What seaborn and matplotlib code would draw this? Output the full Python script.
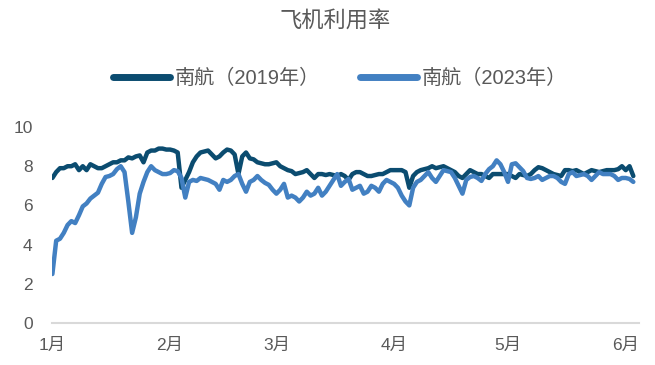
import matplotlib
matplotlib.use("Agg")
import matplotlib.pyplot as plt
import numpy as np
import pandas as pd
import seaborn as sns

# Daily aircraft utilisation (hours/day), 1 Jan - 3 Jun
start_date = "2023-01-01"
series_names = ["南航（2019年）", "南航（2023年）"]
month_labels = ["1月", "2月", "3月", "4月", "5月", "6月"]
y_ticks = [0, 2, 4, 6, 8, 10]

util_2019 = [
    7.4, 7.7, 7.9, 7.9, 8.0, 8.0, 8.1, 7.8, 8.0, 7.8,
    8.1, 8.0, 7.9, 7.9, 8.0, 8.1, 8.2, 8.2, 8.3, 8.3,
    8.45, 8.4, 8.5, 8.55, 8.2, 8.7, 8.8, 8.8, 8.9, 8.9,
    8.85, 8.85, 8.8, 8.7, 6.9, 7.3, 7.7, 8.2, 8.5, 8.7,
    8.75, 8.8, 8.6, 8.4, 8.5, 8.7, 8.85, 8.8, 8.6, 7.6,
    8.5, 8.7, 8.4, 8.35, 8.2, 8.15, 8.1, 8.1, 8.15, 8.2,
    8.0, 7.9, 7.8, 7.75, 7.6, 7.65, 7.7, 7.8, 7.6, 7.4,
    7.6, 7.6, 7.55, 7.6, 7.55, 7.5, 7.6, 7.5, 7.3, 7.6,
    7.7, 7.7, 7.6, 7.5, 7.5, 7.55, 7.6, 7.6, 7.7, 7.8,
    7.8, 7.8, 7.8, 7.7, 6.9, 7.5, 7.7, 7.8, 7.85, 7.9,
    8.0, 7.9, 7.95, 8.0, 7.9, 7.8, 7.7, 7.5, 7.4, 7.6,
    7.8, 7.7, 7.6, 7.6, 7.5, 7.4, 7.6, 7.6, 7.6, 7.6,
    7.6, 7.5, 7.4, 7.6, 7.55, 7.5, 7.6, 7.8, 7.95, 7.9,
    7.8, 7.7, 7.6, 7.55, 7.5, 7.8, 7.8, 7.75, 7.8, 7.7,
    7.6, 7.7, 7.8, 7.75, 7.7, 7.75, 7.8, 7.8, 7.8, 7.85,
    8.0, 7.8, 8.0, 7.5,
]

util_2023 = [
    2.5, 4.2, 4.3, 4.6, 5.0, 5.2, 5.1, 5.5, 5.95, 6.1,
    6.35, 6.5, 6.65, 7.1, 7.45, 7.5, 7.6, 7.85, 8.0, 7.7,
    6.2, 4.6, 5.4, 6.6, 7.2, 7.7, 8.0, 7.8, 7.7, 7.6,
    7.6, 7.65, 7.8, 7.75, 7.4, 6.4, 7.2, 7.3, 7.25, 7.4,
    7.35, 7.3, 7.2, 7.1, 6.8, 7.3, 7.2, 7.3, 7.5, 7.6,
    7.1, 6.7, 7.2, 7.3, 7.5, 7.3, 7.15, 7.05, 6.8, 6.6,
    6.8, 7.1, 6.4, 6.5, 6.4, 6.2, 6.4, 6.7, 6.5, 6.6,
    6.9, 6.5, 6.7, 7.0, 7.3, 7.6, 7.0, 7.2, 7.35, 6.8,
    6.9, 7.0, 6.6, 6.7, 7.0, 6.9, 6.7, 7.1, 7.3, 7.2,
    7.1, 6.9, 6.5, 6.2, 6.0, 6.9, 7.2, 7.3, 7.5, 7.7,
    7.4, 7.2, 7.5, 7.8, 7.75, 7.7, 7.4, 7.0, 6.6, 7.3,
    7.45, 7.5, 7.4, 7.25, 7.6, 7.85, 8.0, 8.3, 8.1, 7.7,
    7.2, 8.1, 8.15, 7.95, 7.75, 7.4, 7.35, 7.4, 7.5, 7.3,
    7.4, 7.5, 7.5, 7.4, 7.2, 7.1, 7.6, 7.7, 7.5, 7.55,
    7.6, 7.5, 7.3, 7.5, 7.7, 7.6, 7.6, 7.6, 7.5, 7.3,
    7.4, 7.4, 7.35, 7.2,
]

dates = pd.date_range(start_date, periods=len(util_2019), freq="D")
df = pd.DataFrame({
    "date": np.concatenate([dates, dates]),
    "value": util_2019 + util_2023,
    "series": [series_names[0]] * len(util_2019) + [series_names[1]] * len(util_2023),
})

sns.set_theme(style="white")
plt.rcParams["font.family"] = ["Liberation Sans", "Noto Sans CJK SC", "DejaVu Sans"]

text_color = "#595959"
palette = {series_names[0]: "#0B4C70", series_names[1]: "#4280C2"}

fig = plt.figure(figsize=(6.55, 3.65), dpi=100)
ax = fig.add_axes([0.0794, 0.115, 0.8962, 0.537])

sns.lineplot(data=df, x="date", y="value", hue="series", palette=palette,
             hue_order=series_names, linewidth=3.2, ax=ax, legend=True)
for line in ax.get_lines():
    line.set_solid_capstyle("round")
    line.set_solid_joinstyle("round")

ax.set_ylim(0, 10)
ax.set_yticks(y_ticks)
ax.set_xlim(pd.Timestamp(start_date) - pd.Timedelta(days=0.1),
            pd.Timestamp(start_date) + pd.Timedelta(days=154.5))
month_starts = pd.date_range(start_date, periods=len(month_labels), freq="MS")
ax.set_xticks(month_starts)
ax.set_xticklabels(month_labels)
ax.set_xlabel("")
ax.set_ylabel("")

for side in ["top", "right", "left"]:
    ax.spines[side].set_visible(False)
ax.spines["bottom"].set_color("#D9D9D9")
ax.spines["bottom"].set_linewidth(1.5)

ax.tick_params(axis="x", direction="in", length=5, width=1.2, color="#D9D9D9",
               labelsize=12.5, labelcolor=text_color, pad=11)
ax.tick_params(axis="y", length=0, labelsize=12.5, labelcolor=text_color, pad=14)

handles, labels = ax.get_legend_handles_labels()
leg = ax.legend(handles, labels, loc="center", bbox_to_anchor=(340 / 655, 1 - 78 / 365),
                bbox_transform=fig.transFigure, ncol=2, frameon=False,
                prop={"family": ["Liberation Sans", "Noto Sans CJK SC"], "size": 14.5},
                labelcolor=text_color, handlelength=2.8, handletextpad=0.25,
                columnspacing=2.0)
for h in leg.get_lines():
    h.set_linewidth(5)
    h.set_solid_capstyle("round")

fig.text(335 / 655, 1 - 22 / 365, "飞机利用率", ha="center", va="center",
         fontsize=16, color=text_color)

fig.savefig("out.png", dpi=100)
